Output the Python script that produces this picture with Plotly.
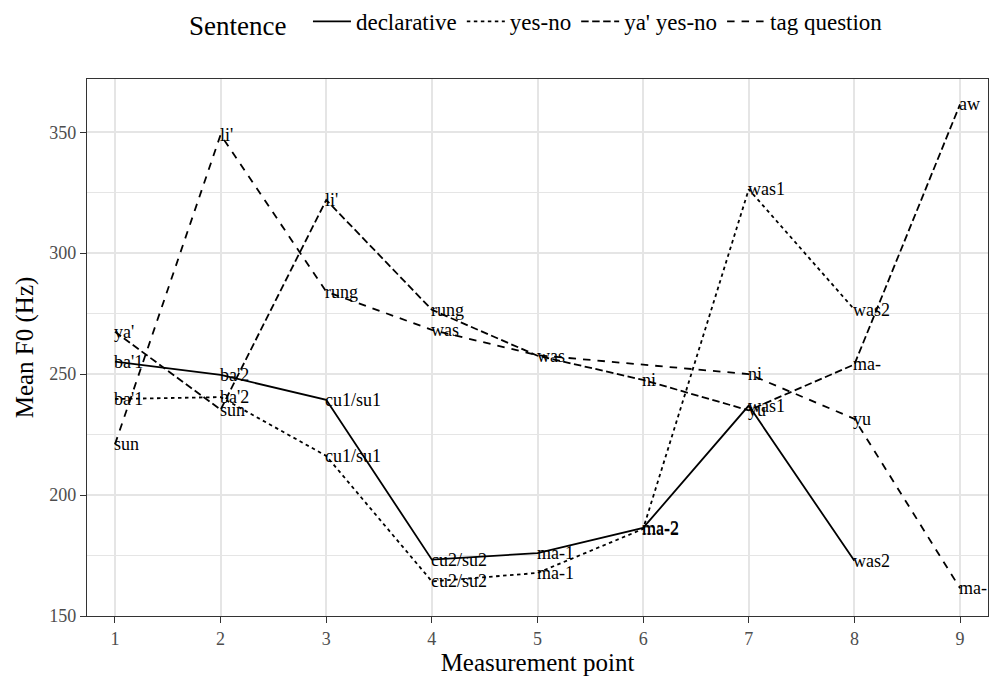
import plotly.graph_objects as go

# Measurement points along each sentence
points = [1, 2, 3, 4, 5, 6, 7, 8, 9]

# Mean F0 (Hz) per sentence type, with the syllable at each point
decl_x = [1, 2, 3, 4, 5, 6, 7, 8]
decl_f0 = [255.2, 249.7, 239.4, 173.3, 176.0, 186.4, 237.0, 172.8]
decl_lab = ["ba'1", "ba'2", "cu1/su1", "cu2/su2", "ma-1", "ma-2", "was1", "was2"]

yn_x = [1, 2, 3, 4, 5, 6, 7, 8]
yn_f0 = [239.7, 240.5, 216.2, 164.3, 167.8, 186.0, 326.4, 276.7]
yn_lab = ["ba'1", "ba'2", "cu1/su1", "cu2/su2", "ma-1", "ma-2", "was1", "was2"]

ya_x = [1, 2, 3, 4, 5, 6, 7, 8, 9]
ya_f0 = [267.5, 235.3, 322.0, 276.6, 257.6, 247.6, 235.0, 254.0, 361.5]
ya_lab = ["ya'", "sun", "li'", "rung", "was", "ni", "yu", "ma-", "aw"]

tag_x = [1, 2, 3, 4, 5, 6, 7, 8, 9]
tag_f0 = [221.0, 349.0, 284.1, 268.3, 257.8, 254.0, 250.0, 231.5, 161.5]
tag_lab = ["sun", "li'", "rung", "was", "", "", "ni", "yu", "ma-"]

y_ticks = [150, 200, 250, 300, 350]
y_minor = [175, 225, 275, 325]

FONT = "Liberation Serif"

series = [
    ("declarative", decl_x, decl_f0, decl_lab, "solid"),
    ("yes-no", yn_x, yn_f0, yn_lab, "3.5px,3.5px"),
    ("ya' yes-no", ya_x, ya_f0, ya_lab, "7.5px,3.5px"),
    ("tag question", tag_x, tag_f0, tag_lab, "7.5px,7px"),
]

fig = go.Figure()
annotations = []
for name, xs, ys, labs, dash in series:
    fig.add_trace(go.Scatter(
        x=xs, y=ys, mode="lines", name=name,
        line=dict(color="black", width=1.8, dash=dash),
        hoverinfo="skip",
    ))
    for xv, yv, t in zip(xs, ys, labs):
        if t:
            annotations.append(dict(
                x=xv, y=yv, text=t, xref="x", yref="y",
                showarrow=False, xanchor="left", yanchor="middle",
                xshift=-3, font=dict(family=FONT, size=18, color="black"),
            ))

fig.update_layout(
    width=989, height=681,
    margin=dict(l=87, r=1, t=79, b=65),
    paper_bgcolor="white", plot_bgcolor="white",
    font=dict(family=FONT, color="black"),
    annotations=annotations,
    showlegend=True,
    legend=dict(
        orientation="h", x=0.5, xanchor="center", y=1.0, yanchor="top",
        yref="container", xref="paper",
        title=dict(text="Sentence  ", side="left", font=dict(size=27, family=FONT)),
        font=dict(size=23, family=FONT),
        itemwidth=38, tracegroupgap=0,
    ),
    xaxis=dict(
        range=[0.735, 9.265], tickvals=points, ticktext=[str(p) for p in points],
        showgrid=True, gridcolor="#E5E5E5", gridwidth=1.6, zeroline=False,
        ticks="outside", ticklen=6, tickwidth=1.3, tickcolor="#333333",
        tickfont=dict(size=18, color="#4D4D4D", family=FONT),
        showline=True, mirror=True, linecolor="#333333", linewidth=1.3,
        title=dict(text="Measurement point", font=dict(size=25, family=FONT), standoff=4),
    ),
    yaxis=dict(
        range=[150, 372], tickvals=y_ticks,
        showgrid=True, gridcolor="#E5E5E5", gridwidth=1.6, zeroline=False,
        minor=dict(tickvals=y_minor, showgrid=True, gridcolor="#E5E5E5", gridwidth=1.2, ticks=""),
        ticks="outside", ticklen=6, tickwidth=1.3, tickcolor="#333333",
        tickfont=dict(size=18, color="#4D4D4D", family=FONT),
        showline=True, mirror=True, linecolor="#333333", linewidth=1.3,
        title=dict(text="Mean F0 (Hz)", font=dict(size=25, family=FONT), standoff=8),
    ),
)

fig.write_html("out.html")
